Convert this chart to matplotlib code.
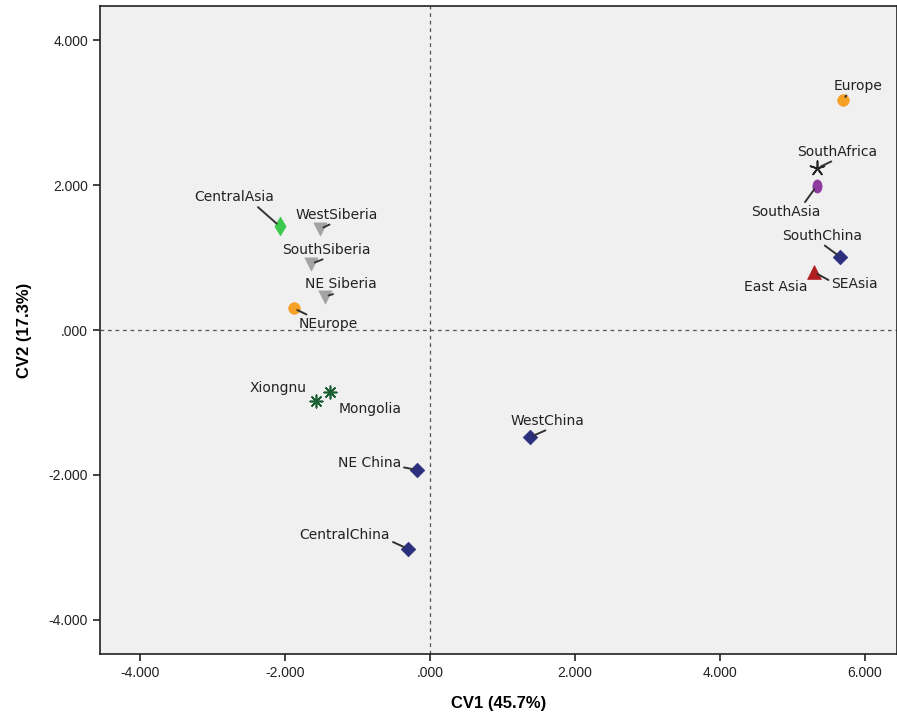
import matplotlib
matplotlib.use("Agg")
import matplotlib.pyplot as plt
from matplotlib.markers import MarkerStyle
from matplotlib.transforms import Affine2D

# discriminant scores per population group
groups = ["Europe", "SouthAfrica", "SouthAsia", "SouthChina", "SEAsia",
          "CentralAsia", "WestSiberia", "SouthSiberia", "NE Siberia", "NEurope",
          "Xiongnu", "Mongolia", "NE China", "CentralChina", "WestChina"]
cv1 = [5.70, 5.34, 5.34, 5.66, 5.30,
       -2.07, -1.52, -1.64, -1.45, -1.88,
       -1.57, -1.37, -0.18, -0.30, 1.38]
cv2 = [3.17, 2.23, 1.99, 1.01, 0.80,
       1.43, 1.39, 0.91, 0.46, 0.30,
       -0.98, -0.86, -1.93, -3.02, -1.48]

ellipse = MarkerStyle("o", transform=Affine2D().scale(0.7, 1.0))

# marker style per group: (marker, colour, size)
styles = {
    "Europe": ("o", "#F5A027", 70),
    "NEurope": ("o", "#F5A027", 70),
    "SouthAfrica": ((5, 2, 0), "#222222", 110),
    "SouthAsia": (ellipse, "#8E3A9E", 90),
    "SouthChina": ("D", "#2B2F7E", 55),
    "NE China": ("D", "#2B2F7E", 55),
    "CentralChina": ("D", "#2B2F7E", 55),
    "WestChina": ("D", "#2B2F7E", 55),
    "SEAsia": ("^", "#B01E22", 100),
    "CentralAsia": ("d", "#3CC84B", 90),
    "WestSiberia": ("v", "#A3A3A3", 90),
    "SouthSiberia": ("v", "#A3A3A3", 90),
    "NE Siberia": ("v", "#A3A3A3", 90),
    "Xiongnu": ((8, 2, 0), "#1B5E34", 80),
    "Mongolia": ((8, 2, 0), "#1B5E34", 80),
}

# label text position (data units) and where the leader leaves the text box
# (None means the label sits next to its point without a leader)
label_pos = {
    "Europe": ((5.91, 3.37), (0.3, 0.0)),
    "SouthAfrica": ((5.62, 2.46), (0.5, 0.0)),
    "SouthAsia": ((4.91, 1.63), (0.75, 1.0)),
    "SouthChina": ((5.42, 1.30), (0.48, 0.0)),
    "SEAsia": ((5.86, 0.63), (0.0, 0.7)),
    "CentralAsia": ((-2.70, 1.83), (0.76, 0.0)),
    "WestSiberia": ((-1.28, 1.59), (0.48, 0.0)),
    "SouthSiberia": ((-1.42, 1.11), (0.53, 0.0)),
    "NE Siberia": ((-1.23, 0.63), (0.52, 0.0)),
    "NEurope": ((-1.40, 0.08), (0.23, 1.0)),
    "Xiongnu": ((-2.10, -0.80), None),
    "Mongolia": ((-0.83, -1.09), None),
    "NE China": ((-0.83, -1.84), (1.0, 0.25)),
    "CentralChina": ((-1.17, -2.83), (1.0, 0.1)),
    "WestChina": ((1.63, -1.25), (0.55, 0.0)),
}

fig = plt.figure(figsize=(8.97, 7.23), dpi=100)
ax = fig.add_axes([0.1115, 0.0954, 0.888, 0.8963])
ax.set_facecolor("#F0F0F0")

ax.axhline(0, color="#555555", lw=0.9, ls=(0, (3, 3)), zorder=1)
ax.axvline(0, color="#555555", lw=0.9, ls=(0, (3, 3)), zorder=1)

for name, x, y in zip(groups, cv1, cv2):
    m, c, s = styles[name]
    ax.scatter(x, y, marker=m, color=c, s=s, zorder=3,
               linewidths=1.2 if isinstance(m, tuple) else 0.5,
               edgecolors=c)
    (tx, ty), rel = label_pos[name]
    arrow = None
    if rel is not None:
        arrow = dict(arrowstyle="-", color="#333333", lw=1.4,
                     relpos=rel, shrinkA=0, shrinkB=3)
    ax.annotate(name, xy=(x, y), xytext=(tx, ty), ha="center", va="center",
                fontsize=10, family="DejaVu Sans", color="#222222",
                arrowprops=arrow, zorder=4)

# second label that shares the red triangle
ax.text(4.78, 0.59, "East Asia", ha="center", va="center", fontsize=10,
        family="DejaVu Sans", color="#222222", zorder=4)

ax.set_xlim(-4.55, 6.44)
ax.set_ylim(-4.47, 4.47)
ax.set_xticks([-4, -2, 0, 2, 4, 6])
ax.set_yticks([-4, -2, 0, 2, 4])
ax.set_xticklabels(["-4.000", "-2.000", ".000", "2.000", "4.000", "6.000"])
ax.set_yticklabels(["-4.000", "-2.000", ".000", "2.000", "4.000"])
ax.tick_params(direction="out", length=5, width=1.2, color="#222222",
               labelsize=10, labelcolor="#222222")
for lab in ax.get_xticklabels() + ax.get_yticklabels():
    lab.set_family("Liberation Sans")
for sp in ax.spines.values():
    sp.set_color("#222222")
    sp.set_linewidth(1.2)

ax.set_xlabel("CV1 (45.7%)", fontsize=12, fontweight="bold",
              family="Liberation Sans", labelpad=12)
ax.set_ylabel("CV2 (17.3%)", fontsize=12, fontweight="bold",
              family="Liberation Sans", labelpad=12)

fig.savefig("out.png", dpi=100)
